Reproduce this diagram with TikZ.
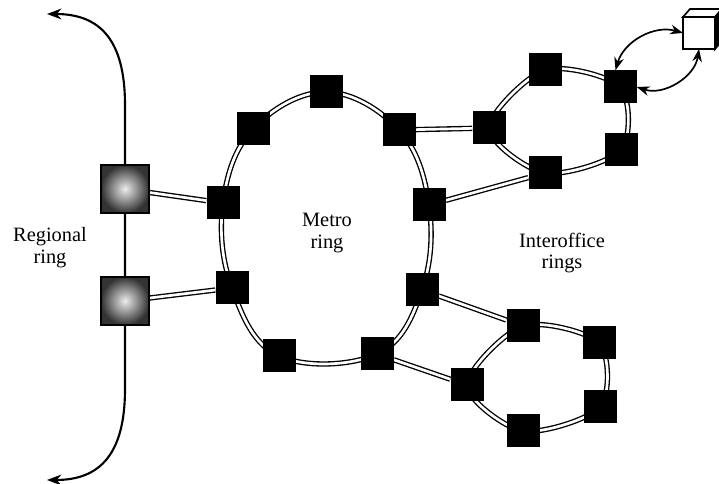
\documentclass[tikz,border=0pt]{standalone}
\usepackage{fontspec}
\setmainfont{Liberation Serif}
\usetikzlibrary{arrows.meta, backgrounds}

\tikzset{
  sw/.style={fill=black, minimum size=8.25mm, inner sep=0pt},
  adm/.style={draw=black, line width=1.3pt, minimum size=12mm, inner sep=0pt,
    inner color=gray!15, outer color=black!80},
  fiber/.style={draw=black, line width=0.95pt, double=white, double distance=1.9pt},
  ringname/.style={align=center, font=\fontsize{14.5}{15.6}\selectfont},
}

\begin{document}
\begin{tikzpicture}[x=0.25mm, y=-0.25mm]
      \useasboundingbox (0,0) rectangle (719,484);

      % regional ring (add/drop muxes)
      \node[adm] (r1) at (125,189) {};
      \node[adm] (r2) at (125,301) {};

      % metro ring
      \node[sw] (m1) at (326,92) {};
      \node[sw] (m2) at (399,130) {};
      \node[sw] (m3) at (429,205) {};
      \node[sw] (m4) at (422,290) {};
      \node[sw] (m5) at (377,354) {};
      \node[sw] (m6) at (279,356) {};
      \node[sw] (m7) at (232,288) {};
      \node[sw] (m8) at (223,203) {};
      \node[sw] (m9) at (253,129) {};

      % upper interoffice ring
      \node[sw] (u1) at (489,128) {};
      \node[sw] (u2) at (545,70) {};
      \node[sw] (u3) at (620,87) {};
      \node[sw] (u4) at (621,150) {};
      \node[sw] (u5) at (545,173) {};

      % lower interoffice ring
      \node[sw] (l1) at (467,385) {};
      \node[sw] (l2) at (523,326) {};
      \node[sw] (l3) at (599,343) {};
      \node[sw] (l4) at (600,407) {};
      \node[sw] (l5) at (523,431) {};

      % customer box
      \node[draw, fill=white, line width=1.2pt, minimum size=8mm, inner sep=0pt, outer sep=0pt] (host) at (699,33) {};
      \filldraw[fill=white, line width=1.2pt] (host.north west) -- ++(7,-8) -- ++(32,0) -- (host.north east) -- cycle;
      \filldraw[fill=black, line width=1.2pt] (host.north east) -- ++(7,-8) -- ++(0,32) -- (host.south east) -- cycle;

      \node[ringname] (metro) at (327,233) {Metro\\ring};
      \node[ringname] (regional) at (50,248) {Regional\\ring};
      \node[ringname] (interoffice) at (562,253) {Interoffice\\rings};

      \draw[line width=1.2pt, {Stealth[length=3.2mm, width=2.4mm]}-{Stealth[length=3.2mm, width=2.4mm]}] (host.west) to[bend right=45] (u3.105);
      \draw[line width=1.2pt, {Stealth[length=3.2mm, width=2.4mm]}-{Stealth[length=3.2mm, width=2.4mm]}] (host.south) to[bend left=50] (u3.east);

      \begin{scope}[on background layer]
        \coordinate (regtop) at (47,14);
        \coordinate (regbot) at (47,480);
        \draw[line width=1.5pt, {Stealth[length=3.6mm, width=2.7mm]}-{Stealth[length=3.6mm, width=2.7mm]}]
          (regtop) .. controls (100,14) and (125,40) .. (125,105) -- (125,389) .. controls (125,454) and (100,480) .. (regbot);

        \draw[fiber] plot[smooth cycle, tension=0.65] coordinates {(m1.center) (m2.center) (m3.center) (m4.center) (m5.center) (m6.center) (m7.center) (m8.center) (m9.center)};
        \draw[fiber] plot[smooth cycle] coordinates {(u1.center) (u2.center) (u3.center) (u4.center) (u5.center)};
        \draw[fiber] plot[smooth cycle] coordinates {(l1.center) (l2.center) (l3.center) (l4.center) (l5.center)};

        \draw[fiber] (r1) -- (m8);
        \draw[fiber] (r2) -- (m7);
        \draw[fiber] (m2) -- (u1);
        \draw[fiber] (m3) -- (u5);
        \draw[fiber] (m4) -- (l2);
        \draw[fiber] (m5) -- (l1);
      \end{scope}
    \end{tikzpicture}
\end{document}
